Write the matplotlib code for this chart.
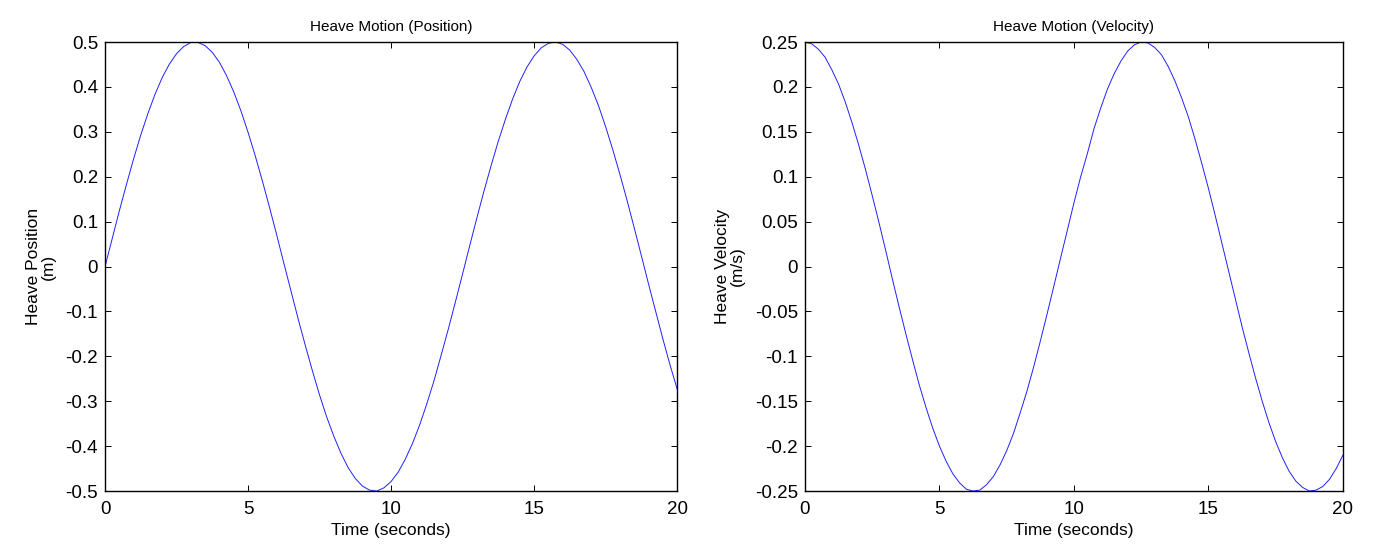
import matplotlib.pyplot as plt

plt.rcParams['font.family'] = ['Liberation Sans', 'DejaVu Sans']

# time samples (seconds)
time = [0, 0.25, 0.5, 0.75, 1, 1.25, 1.5, 1.75, 2, 2.25, 2.5, 2.75, 3, 3.25, 3.5, 3.75,
        4, 4.25, 4.5, 4.75, 5, 5.25, 5.5, 5.75, 6, 6.25, 6.5, 6.75, 7, 7.25, 7.5, 7.75,
        8, 8.25, 8.5, 8.75, 9, 9.25, 9.5, 9.75, 10, 10.25, 10.5, 10.75, 11, 11.25, 11.5,
        11.75, 12, 12.25, 12.5, 12.75, 13, 13.25, 13.5, 13.75, 14, 14.25, 14.5, 14.75,
        15, 15.25, 15.5, 15.75, 16, 16.25, 16.5, 16.75, 17, 17.25, 17.5, 17.75, 18,
        18.25, 18.5, 18.75, 19, 19.25, 19.5, 19.75, 20]

# heave position (m)
position = [0.000, 0.062, 0.124, 0.183, 0.240, 0.293, 0.341, 0.384, 0.421, 0.451,
            0.474, 0.490, 0.499, 0.499, 0.492, 0.477, 0.455, 0.425, 0.389, 0.347,
            0.299, 0.247, 0.191, 0.132, 0.071, 0.008, -0.054, -0.116, -0.175, -0.232,
            -0.286, -0.335, -0.378, -0.416, -0.448, -0.472, -0.489, -0.498, -0.500, -0.493,
            -0.479, -0.458, -0.429, -0.394, -0.353, -0.306, -0.255, -0.198, -0.140, -0.079,
            -0.017, 0.046, 0.108, 0.168, 0.225, 0.279, 0.328, 0.373, 0.412, 0.444,
            0.469, 0.487, 0.497, 0.500, 0.495, 0.482, 0.461, 0.434, 0.399, 0.359,
            0.312, 0.261, 0.206, 0.148, 0.087, 0.025, -0.038, -0.099, -0.160, -0.218,
            -0.272]

# heave velocity (m/s)
velocity = [0.250, 0.248, 0.242, 0.233, 0.219, 0.203, 0.183, 0.160, 0.135, 0.108,
            0.079, 0.049, 0.018, -0.014, -0.045, -0.075, -0.104, -0.132, -0.157, -0.180,
            -0.200, -0.217, -0.231, -0.241, -0.248, -0.250, -0.249, -0.243, -0.234, -0.221,
            -0.205, -0.186, -0.163, -0.139, -0.112, -0.083, -0.053, -0.022, 0.009, 0.040,
            0.071, 0.100, 0.126, 0.154, 0.177, 0.198, 0.215, 0.229, 0.240, 0.247,
            0.250, 0.249, 0.244, 0.236, 0.223, 0.207, 0.188, 0.167, 0.142, 0.115,
            0.087, 0.057, 0.026, -0.005, -0.036, -0.067, -0.096, -0.124, -0.150, -0.174,
            -0.195, -0.213, -0.228, -0.239, -0.246, -0.250, -0.249, -0.245, -0.237, -0.225,
            -0.210]

pos_ticks = [-0.5, -0.4, -0.3, -0.2, -0.1, 0, 0.1, 0.2, 0.3, 0.4, 0.5]
pos_labels = ["-0.5", "-0.4", "-0.3", "-0.2", "-0.1", "0", "0.1", "0.2", "0.3", "0.4", "0.5"]
vel_ticks = [-0.25, -0.2, -0.15, -0.1, -0.05, 0, 0.05, 0.1, 0.15, 0.2, 0.25]
vel_labels = ["-0.25", "-0.2", "-0.15", "-0.1", "-0.05", "0", "0.05", "0.1", "0.15", "0.2", "0.25"]
x_ticks = [0, 5, 10, 15, 20]


def style(ax, y, ylim, yticks, ylabels, title, ylabel):
    ax.plot(time, y, color='#2020ff', linewidth=0.7)
    ax.set_xlim(0, 20)
    ax.set_ylim(*ylim)
    ax.set_xticks(x_ticks)
    ax.set_xticklabels([str(t) for t in x_ticks])
    ax.set_yticks(yticks)
    ax.set_yticklabels(ylabels)
    ax.tick_params(direction='in', length=4, width=0.7, labelsize=13.5,
                   top=True, right=True, pad=5)
    ax.tick_params(axis='x', pad=7)
    for s in ax.spines.values():
        s.set_linewidth(1.0)
    ax.set_title(title, fontsize=11, pad=8)
    ax.set_xlabel("Time (seconds)", fontsize=12.5, labelpad=4)
    ax.set_ylabel(ylabel, fontsize=12.5, labelpad=7, linespacing=1.0)


fig = plt.figure(figsize=(13.73, 5.59), dpi=100)
ax1 = fig.add_axes([0.0765, 0.1216, 0.4166, 0.8032])
ax2 = fig.add_axes([0.5863, 0.1216, 0.3918, 0.8032])

style(ax1, position, (-0.5, 0.5), pos_ticks, pos_labels,
      "Heave Motion (Position)", "Heave Position\n(m)")
style(ax2, velocity, (-0.25, 0.25), vel_ticks, vel_labels,
      "Heave Motion (Velocity)", "Heave Velocity\n(m/s)")

fig.savefig("out.png", dpi=100)
